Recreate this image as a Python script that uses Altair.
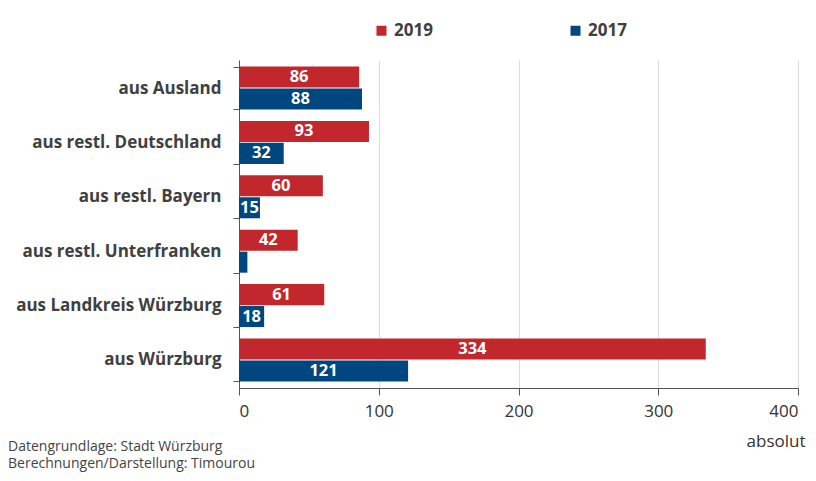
import altair as alt
import pandas as pd

categories = [
    "aus Ausland",
    "aus restl. Deutschland",
    "aus restl. Bayern",
    "aus restl. Unterfranken",
    "aus Landkreis Würzburg",
    "aus Würzburg",
]
years = ["2019", "2017"]
values_2019 = [86, 93, 60, 42, 61, 334]
values_2017 = [88, 32, 15, 6, 18, 121]
colors = ["#c1272d", "#00477f"]
x_ticks = [0, 100, 200, 300, 400]
footer_lines = ["Datengrundlage: Stadt Würzburg", "Berechnungen/Darstellung: Timourou"]

rows = []
for c, a, b in zip(categories, values_2019, values_2017):
    rows.append({"Herkunft": c, "Jahr": "2019", "Wert": a})
    rows.append({"Herkunft": c, "Jahr": "2017", "Wert": b})
df = pd.DataFrame(rows)

FONT = "Open Sans"

y_enc = alt.Y(
    "Herkunft:N",
    sort=categories,
    scale=alt.Scale(paddingInner=0.21, paddingOuter=0.12),
    axis=alt.Axis(
        title=None,
        tickBand="extent",
        labelFontSize=17,
        labelFontWeight="bold",
        labelColor="#404040",
        labelFont=FONT,
        tickSize=6,
        tickColor="#555555",
        domainColor="#555555",
        labelPadding=12,
        labelLimit=300,
    ),
)
yoff = alt.YOffset("Jahr:N", sort=years, scale=alt.Scale(paddingInner=0.04))

x_axis = alt.Axis(
    values=x_ticks,
    title="absolut",
    titleX=566,
    titleY=58,
    titleAlign="right",
    titleBaseline="alphabetic",
    titleFontWeight="normal",
    titleFontSize=17,
    titleColor="#333333",
    titleFont=FONT,
    grid=True,
    gridColor="#dcdcdc",
    tickSize=7,
    tickColor="#555555",
    domainColor="#555555",
    labelFontSize=17,
    labelColor="#333333",
    labelFont=FONT,
    labelPadding=8,
)

bars = alt.Chart(df).mark_bar().encode(
    x=alt.X("Wert:Q", scale=alt.Scale(domain=[0, 400]), axis=x_axis),
    y=y_enc,
    yOffset=yoff,
    color=alt.Color(
        "Jahr:N",
        sort=years,
        scale=alt.Scale(domain=years, range=colors),
        legend=alt.Legend(
            title=None,
            orient="none",
            legendX=134,
            legendY=-38,
            direction="horizontal",
            columnPadding=134,
            symbolType="square",
            symbolSize=100,
            symbolStrokeWidth=0,
            labelFontSize=17,
            labelFontWeight="bold",
            labelColor="#404040",
            labelFont=FONT,
            labelOffset=4,
        ),
    ),
)

labels = (
    alt.Chart(df)
    .transform_filter("datum.Wert >= 10")
    .transform_calculate(mid="datum.Wert / 2")
    .mark_text(color="white", fontWeight="bold", fontSize=16.5, font=FONT, baseline="middle")
    .encode(
        x=alt.X("mid:Q"),
        y=y_enc,
        yOffset=yoff,
        text=alt.Text("Wert:Q"),
    )
)

foot1 = alt.Chart(pd.DataFrame({"t": [footer_lines[0]]})).mark_text(
    align="left", baseline="middle", fontSize=14, color="#444444", font=FONT
).encode(x=alt.value(-231), y=alt.value(387), text="t:N")
foot2 = alt.Chart(pd.DataFrame({"t": [footer_lines[1]]})).mark_text(
    align="left", baseline="middle", fontSize=14, color="#444444", font=FONT
).encode(x=alt.value(-231), y=alt.value(404), text="t:N")

chart = (
    alt.layer(bars, labels, foot1, foot2)
    .properties(
        width=559,
        height=328,
        autosize=alt.AutoSizeParams(type="none"),
        padding={"left": 231, "top": 52, "right": 10, "bottom": 85},
    )
    .configure_view(stroke=None)
)

chart.save("out.html", embed_options={"renderer": "svg", "actions": False})
